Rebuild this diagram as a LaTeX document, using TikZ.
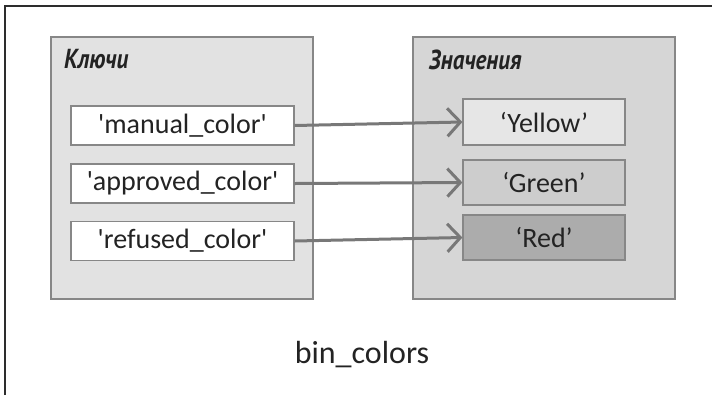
\documentclass[tikz,border=0pt]{standalone}
\usepackage{fontspec}
\setmainfont{Carlito}
\newfontfamily\headfont{PT Sans}[FakeStretch=0.84]
\usetikzlibrary{arrows.meta, positioning}

\definecolor{framegray}{RGB}{45, 45, 45}
\definecolor{edgegray}{RGB}{135, 135, 135}
\definecolor{keyspanel}{RGB}{226, 226, 226}
\definecolor{valspanel}{RGB}{214, 214, 214}
\definecolor{yellowval}{RGB}{230, 230, 230}
\definecolor{greenval}{RGB}{205, 205, 205}
\definecolor{redval}{RGB}{172, 172, 172}
\definecolor{linkgray}{RGB}{120, 120, 120}
\definecolor{textgray}{RGB}{35, 35, 35}

\begin{document}
\begin{tikzpicture}[x=1bp, y=-1bp,
    panel/.style={draw=edgegray, line width=1.2bp, minimum width=262bp, minimum height=262bp, inner sep=0pt},
    keybox/.style={draw=edgegray, fill=white, line width=1.2bp, minimum width=223bp, minimum height=39bp,
                   inner sep=0pt, text=textgray, font=\fontsize{28bp}{33bp}\selectfont},
    valbox/.style={draw=edgegray, line width=1.2bp, minimum width=162bp, minimum height=45bp,
                   inner sep=0pt, text=textgray, font=\fontsize{28bp}{33bp}\selectfont},
    heading/.style={anchor=base west, inner sep=0pt, text=textgray,
                    font=\headfont\fontsize{27.5bp}{32bp}\selectfont\bfseries\itshape},
    link/.style={draw=linkgray, line width=3bp, -{Straight Barb[length=13bp, width=28bp]}}]
  \useasboundingbox (0,0) rectangle (712,395);

  % outer frame
  \draw[framegray, line width=2bp] (5,395) -- (5,6) -- (712,6);

  % keys panel
  \node[panel, fill=keyspanel] (keys) at (182,168) {};
  \node[heading] (keyshead) at (64,68) {Ключи};
  \node[keybox] (manual) at (182.5,125.5) {\textquotesingle manual\_color\textquotesingle};
  \node[keybox] (approved) at (182.5,183.5) {\textquotesingle approved\_color\textquotesingle};
  \node[keybox] (refused) at (182.5,241) {\textquotesingle refused\_color\textquotesingle};

  % values panel
  \node[panel, fill=valspanel] (vals) at (544,168) {};
  \node[heading] (valshead) at (429,69) {Значения};
  \node[valbox, fill=yellowval, minimum height=46bp] (yellow) at (544,122) {‘Yellow’};
  \node[valbox, fill=greenval] (green) at (544,182.5) {‘Green’};
  \node[valbox, fill=redval] (red) at (544,237.5) {‘Red’};

  % key -> value links
  \draw[link] (manual.east) -- (yellow.west);
  \draw[link] (approved.east) -- (green.west);
  \draw[link] (refused.east) -- (red.west);

  % dict name
  \node[anchor=base, inner sep=0pt, text=textgray, font=\fontsize{32bp}{38bp}\selectfont] (dictname) at (362,363) {bin\_colors};
\end{tikzpicture}
\end{document}
